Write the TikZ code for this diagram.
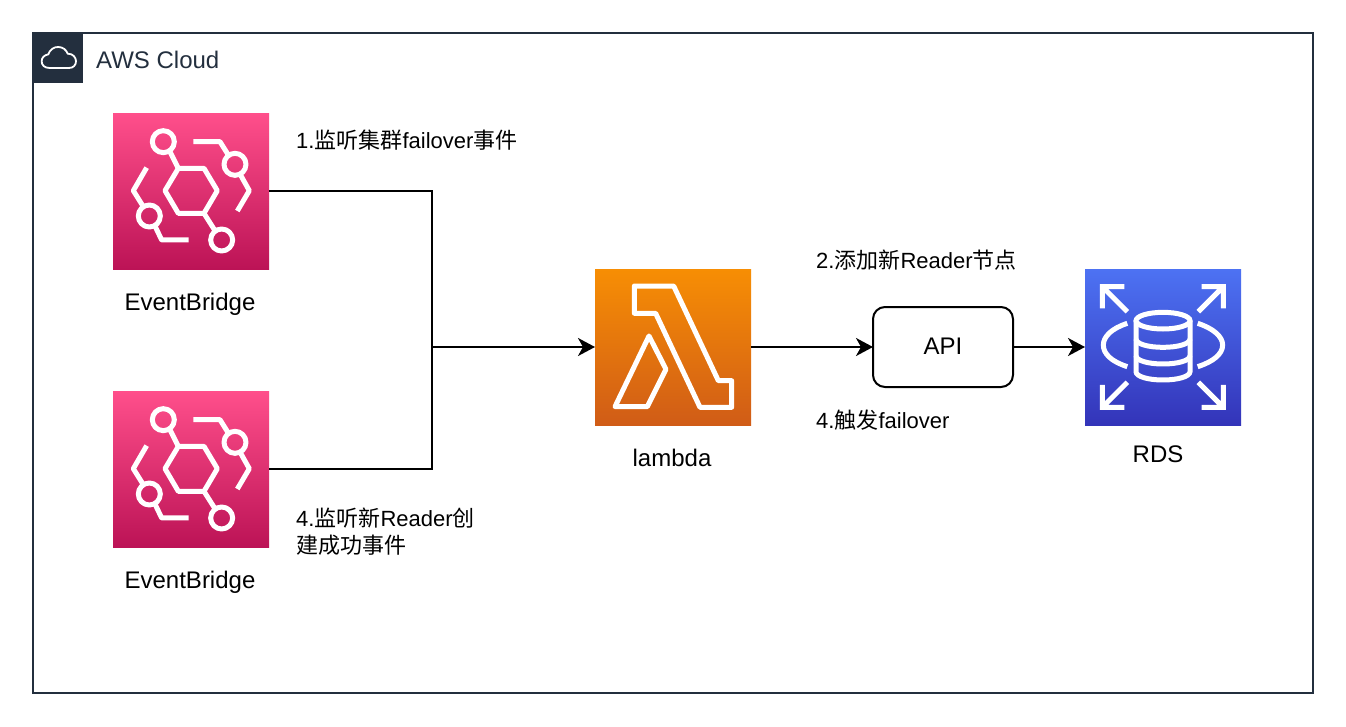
\documentclass[tikz,border=0pt]{standalone}
\usepackage{fontspec}
\setmainfont{Liberation Sans}
\newfontfamily\cjk{Noto Sans CJK SC}
\usetikzlibrary{arrows.meta}
\definecolor{frame}{HTML}{232F3E}
\newcommand{\zh}[1]{{\cjk #1}}
\tikzset{
  x=1pt,y=-1pt,
  icon/.style={minimum size=156pt,inner sep=0pt,outer sep=0pt,shading angle=0},
  ebicon/.style={icon,top color=ebtop,bottom color=ebbot},
  laicon/.style={icon,top color=latop,bottom color=labot},
  rdicon/.style={icon,top color=rdtop,bottom color=rdbot},
  glyph/.style={draw=white,line width=5pt,line join=round},
  conn/.style={draw=black,line width=2pt},
  arr/.style={conn,-{Stealth[length=17pt,width=18pt,inset=5pt]}},
  lab/.style={font=\fontsize{24pt}{28pt}\selectfont,anchor=base,inner sep=0pt,text=black},
  note/.style={font=\fontsize{22pt}{26pt}\selectfont,anchor=base west,inner sep=0pt,text=black},
  apibox/.style={draw=black,line width=2pt,rounded corners=12pt,minimum width=140pt,minimum height=80pt,inner sep=0pt,outer sep=0pt,fill=white,font=\fontsize{24pt}{28pt}\selectfont}
}
\definecolor{ebtop}{HTML}{FF4F8B}\definecolor{ebbot}{HTML}{BC1356}
\definecolor{latop}{HTML}{F78E04}\definecolor{labot}{HTML}{D05C17}
\definecolor{rdtop}{HTML}{4D72F3}\definecolor{rdbot}{HTML}{3334B9}
% zoom coordinates: 3 units per pixel
\newcommand{\ebglyph}[2]{\begin{scope}[shift={(#1,#2)},x=0.3333pt,y=-0.3333pt]
  \draw[glyph] (195,272)--(235,205)--(312,205)--(352,272)--(312,340)--(235,340)--cycle;
  \draw[glyph] (190,125) circle[radius=33];
  \draw[glyph] (365,420) circle[radius=33];
  \draw[glyph] (405,193) circle[radius=33];
  \draw[glyph] (148,348) circle[radius=33];
  \draw[glyph] (209,153)--(235,205);
  \draw[glyph] (312,340)--(345,392);
  \draw[glyph] (280,125)--(360,125)--(385,165);
  \draw[glyph] (420,222)--(448,272)--(412,333);
  \draw[glyph] (140,203)--(100,272)--(130,320);
  \draw[glyph] (165,378)--(185,420)--(266,420);
\end{scope}}
\begin{document}
\begin{tikzpicture}
\useasboundingbox (0,0) rectangle (1346,726);
\fill[white] (0,0) rectangle (1346,726);
\node[draw=frame,line width=2pt,outer sep=0pt,minimum width=1280pt,minimum height=660pt,inner sep=0pt,anchor=north west] (cloud) at (33,33) {};
\node[fill=frame,minimum size=50pt,inner sep=0pt,outer sep=0pt,anchor=north west] (cloudtag) at (33,33) {};
\begin{scope}[shift={(25,25)},x=0.3333pt,y=-0.3333pt]
  \draw[white,line width=1.8pt,line join=round] (74,129) .. controls (58,129) and (50,120) .. (50,109)
    .. controls (50,98) and (58,90) .. (70,88) .. controls (74,74) and (88,65) .. (100,66)
    .. controls (114,66) and (124,75) .. (128,86) .. controls (144,86) and (153,97) .. (153,109)
    .. controls (153,120) and (145,129) .. (132,129) -- cycle;
\end{scope}
\node[font=\fontsize{24pt}{28pt}\selectfont,anchor=base west,inner sep=0pt,text=frame] (cloudlabel) at (96,68) {AWS Cloud};

\node[ebicon] (eba) at (191,191) {};
\node[ebicon] (ebb) at (191,469) {};
\node[laicon] (lam) at (673,347) {};
\node[rdicon] (rds) at (1163,347) {};
\node[apibox] (api) at (943,347) {\raisebox{2.5pt}{API}};
\coordinate (junction) at (432,347);

\ebglyph{100}{100}
\ebglyph{100}{378}

\begin{scope}[shift={(585,260)},x=0.3333pt,y=-0.3333pt]
  \draw[glyph] (148,78)--(266,78)--(400,362)--(440,362)--(440,442)--(345,442)--(212,160)--(148,160)--cycle;
  \draw[glyph] (192,228)--(243,328)--(187,440)--(90,440)--cycle;
\end{scope}

\begin{scope}[shift={(1075,260)},x=0.3333pt,y=-0.3333pt]
  \tikzset{rg/.style={draw=white,line width=5pt,line join=miter}}
  \draw[rg] (82,145)--(82,80)--(148,80) (82,80)--(157,155);
  \draw[rg] (380,80)--(445,80)--(445,145) (445,80)--(370,155);
  \draw[rg] (82,375)--(82,442)--(148,442) (82,442)--(157,367);
  \draw[rg] (380,442)--(445,442)--(445,375) (445,442)--(370,367);
  \draw[rg] (157,190) .. controls (110,205) and (85,230) .. (85,255) .. controls (85,282) and (110,305) .. (157,320);
  \draw[rg] (368,190) .. controls (415,205) and (443,230) .. (443,255) .. controls (443,282) and (415,305) .. (368,320);
  \draw[rg] (264,182) ellipse[x radius=81,y radius=25];
  \draw[rg] (183,182)--(183,335) .. controls (183,350) and (220,360) .. (264,360) .. controls (308,360) and (345,350) .. (345,335)--(345,182);
  \draw[rg] (183,237) .. controls (183,252) and (220,262) .. (264,262) .. controls (308,262) and (345,252) .. (345,237);
  \draw[rg] (183,287) .. controls (183,302) and (220,312) .. (264,312) .. controls (308,312) and (345,302) .. (345,287);
\end{scope}

\draw[conn] (eba.east) -| (junction);
\draw[conn] (ebb.east) -| (junction);
\draw[arr] (junction) -- (lam.west);
\draw[arr] (lam.east) -- (api.west);
\draw[arr] (api.east) -- (rds.west);

\node[lab] (laba) at (190,310) {EventBridge};
\node[lab] (labb) at (190,588) {EventBridge};
\node[lab] (labc) at (672,466) {lambda};
\node[lab] (labd) at (1158,462) {RDS};
\node[note] (n1) at (296,148) {1.\zh{监听集群}failover\zh{事件}};
\node[note] (n2) at (816,268) {2.\zh{添加新}Reader\zh{节点}};
\node[note] (n3) at (816,428) {4.\zh{触发}failover};
\node[note] (n4) at (296,526) {4.\zh{监听新}Reader\zh{创}};
\node[note] (n5) at (296,553) {\zh{建成功事件}};
\end{tikzpicture}
\end{document}
